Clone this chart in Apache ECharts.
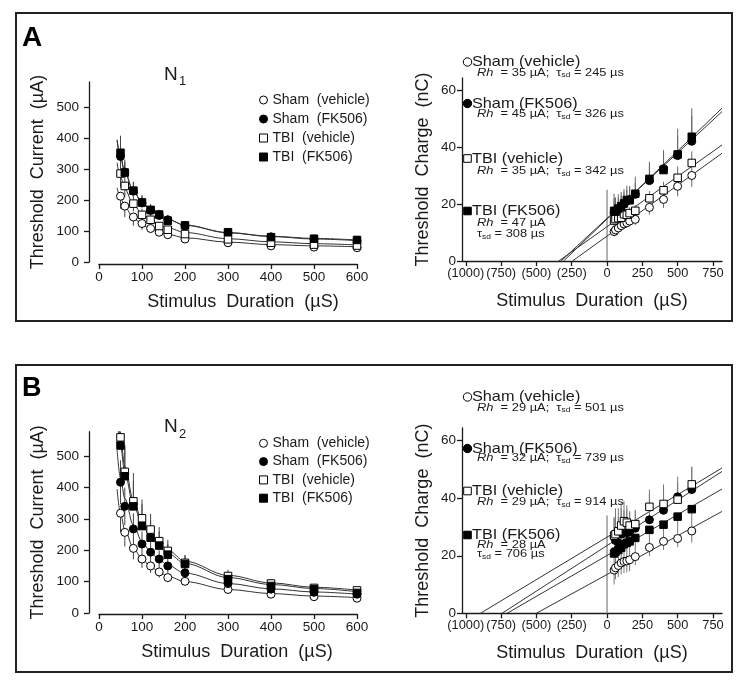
<!DOCTYPE html>
<html><head><meta charset="utf-8">
<script src="https://cdn.jsdelivr.net/npm/echarts@6/dist/echarts.min.js"></script>
<style>html,body{margin:0;padding:0;background:#fff}#c{width:750px;height:687px}</style>
</head><body><div id="c"></div>
<script>
// ---------- data ----------
const durations = [50, 60, 80, 100, 120, 140, 160, 200, 300, 400, 500, 600];
const fitDurations = [42, 50, 60, 80, 100, 120, 140, 160, 200, 300, 400, 500, 600];
const currentTicks = [0, 100, 200, 300, 400, 500];
const chargeTicks = [0, 20, 40, 60];
const durationTicks = [0, 100, 200, 300, 400, 500, 600];
const extDurationTicks = [-1000, -750, -500, -250, 0, 250, 500, 750];
const groupNames = ['Sham  (vehicle)', 'Sham  (FK506)', 'TBI  (vehicle)', 'TBI  (FK506)'];

// Panel A (N1) threshold current, µA
const aCurShamVeh = [212, 180, 145, 124, 108, 96, 88, 74, 62, 52, 48, 46];
const aCurShamFK  = [340, 290, 228, 190, 166, 150, 136, 117, 94, 81, 74, 69];
const aCurTbiVeh  = [285, 245, 188, 152, 136, 116, 104, 90, 73, 62, 56, 53];
const aCurTbiFK   = [352, 288, 230, 192, 168, 153, 133, 118, 96, 80, 75, 71];
const aCurShamVehErr = [40, 35, 28, 20, 15, 12, 10, 8, 6, 5, 5, 5];
const aCurShamFKErr  = [55, 40, 30, 25, 20, 18, 15, 12, 8, 6, 5, 5];
const aCurTbiVehErr  = [45, 35, 25, 20, 15, 12, 10, 8, 6, 5, 5, 4];
const aCurTbiFKErr   = [55, 35, 28, 22, 18, 15, 12, 10, 8, 6, 5, 5];
const aCurShamVehFit = [239, 207, 178, 142, 121, 106, 96, 89, 78, 64, 56, 52, 49];
const aCurShamFKFit  = [394, 338, 290, 228, 192, 167, 150, 137, 118, 94, 82, 74, 69];
const aCurTbiVehFit  = [320, 274, 235, 185, 155, 135, 120, 110, 95, 75, 65, 59, 55];
const aCurTbiFKFit   = [392, 337, 288, 228, 192, 168, 150, 137, 119, 95, 83, 76, 71];

// Panel A threshold charge, nC
const aChgShamVeh = [10.3, 10.9, 11.6, 12.4, 13.0, 13.4, 14.0, 14.6, 18.8, 21.6, 26.2, 30.0];
const aChgShamFK  = [17.0, 17.4, 18.2, 19.1, 20.0, 21.0, 21.6, 23.4, 28.2, 32.4, 37.0, 42.0];
const aChgTbiVeh  = [14.2, 14.7, 15.0, 15.2, 16.4, 16.2, 16.8, 17.6, 22.0, 24.8, 29.2, 34.4];
const aChgTbiFK   = [17.6, 17.3, 18.4, 19.2, 20.2, 21.4, 21.3, 23.6, 28.8, 31.9, 37.4, 43.6];
const aChgShamVehErr = [1.5, 1.5, 1.5, 1.5, 1.5, 1.5, 1.5, 2, 2.5, 3, 3.5, 4];
const aChgShamFKErr  = [5, 4, 4, 4, 4, 4, 4, 4, 5, 6, 7, 9];
const aChgTbiVehErr  = [2, 2, 2, 2, 2, 2, 2, 2, 2.5, 3, 4, 4];
const aChgTbiFKErr   = [6, 5, 5, 5, 5, 5, 5, 6, 6, 7, 9, 10];
const aChgShamVehFit = [[-245, 0], [814, 37.8]];
const aChgShamFKFit  = [[-326, 0], [814, 52.4]];
const aChgTbiVehFit  = [[-342, 0], [814, 40.7]];
const aChgTbiFKFit   = [[-308, 0], [814, 53.6]];
const aZeroBar = [[0, 0], [0, 25]];

// Panel B (N2) threshold current, µA
const bCurShamVeh = [318, 257, 206, 172, 150, 131, 113, 101, 75, 60, 52, 47];
const bCurShamFK  = [417, 340, 268, 220, 194, 172, 150, 128, 94, 76, 66, 60];
const bCurTbiVeh  = [560, 450, 356, 302, 266, 229, 198, 160, 118, 94, 80, 72];
const bCurTbiFK   = [534, 436, 340, 277, 240, 215, 186, 156, 108, 86, 76, 64];
const bCurShamVehErr = [60, 45, 35, 28, 22, 18, 15, 10, 8, 6, 5, 5];
const bCurShamFKErr  = [70, 60, 50, 40, 32, 28, 22, 18, 12, 10, 8, 7];
const bCurTbiVehErr  = [90, 80, 90, 60, 50, 45, 35, 25, 20, 12, 10, 8];
const bCurTbiFKErr   = [110, 100, 80, 70, 55, 45, 35, 28, 20, 15, 12, 10];
const bCurShamVehFit = [395, 318, 265, 207, 172, 148, 130, 117, 100, 75, 62, 54, 49];
const bCurShamFKFit  = [520, 430, 365, 280, 228, 194, 170, 152, 127, 94, 77, 67, 60];
const bCurTbiVehFit  = [660, 560, 468, 360, 296, 254, 224, 200, 165, 120, 96, 82, 73];
const bCurTbiFKFit   = [640, 534, 445, 345, 283, 242, 212, 190, 158, 113, 91, 78, 68];

// Panel B threshold charge, nC
const bChgShamVeh = [15.0, 15.8, 16.6, 17.5, 18.0, 18.2, 18.6, 19.7, 22.9, 25.0, 26.0, 28.6];
const bChgShamFK  = [26.5, 25.3, 24.5, 27.5, 27.8, 28.0, 28.2, 29.6, 32.5, 35.8, 40.5, 43.0];
const bChgTbiVeh  = [27.0, 27.5, 28.5, 30.5, 32.0, 31.5, 30.5, 31.0, 37.0, 38.0, 39.5, 44.8];
const bChgTbiFK   = [20.8, 21.4, 22.0, 22.8, 24.0, 24.5, 25.0, 26.2, 29.0, 30.8, 33.6, 36.2];
const bChgShamVehErr = [5, 4, 4, 4, 4, 4, 4, 3, 3, 3, 3, 4];
const bChgShamFKErr  = [7, 9, 9, 9, 8, 8, 7, 6, 9, 9, 7, 8];
const bChgTbiVehErr  = [6, 9, 8, 8, 7, 6, 5, 5, 6, 6, 6, 6];
const bChgTbiFKErr   = [6, 7, 7, 7, 7, 6, 6, 5, 8, 7, 6, 7];
const bChgShamVehFit = [[-501, 0], [814, 35.4]];
const bChgShamFKFit  = [[-744, 0], [814, 49.3]];
const bChgTbiVehFit  = [[-897, 0], [814, 50.5]];
const bChgTbiFKFit   = [[-708, 0], [814, 43.2]];
const bZeroBar = [[0, 0], [0, 34]];

// ---------- chart ----------
const FF = '"Liberation Sans", Arial, Helvetica, sans-serif';
const INK = '#1a1a1a';
const chart = echarts.init(document.getElementById('c'), null, {renderer: 'canvas'});

const styles = [
  {symbol: 'circle', filled: false},
  {symbol: 'circle', filled: true},
  {symbol: 'rect', filled: false},
  {symbol: 'rect', filled: true}
];

function markerSeries(idx, g, vals) {
  const s = styles[g];
  return {
    type: 'scatter', name: groupNames[g], xAxisIndex: idx, yAxisIndex: idx,
    data: durations.map((t, i) => [t, vals[i]]),
    symbol: s.symbol, symbolSize: s.symbol === 'circle' ? 8 : 7.5,
    itemStyle: {color: s.filled ? '#000' : '#fff', borderColor: '#000', borderWidth: 1, opacity: 1},
    z: 5, silent: true, animation: false
  };
}
function errSeries(idx, vals, errs, dir, cap, color) {
  return {
    type: 'custom', name: 'err', xAxisIndex: idx, yAxisIndex: idx, z: 3, silent: true, animation: false,
    data: durations.map((t, i) => [t,
      dir > 0 ? vals[i] : vals[i] - errs[i],
      dir < 0 ? vals[i] : Math.min(cap, vals[i] + errs[i])]),
    encode: {x: 0, y: [1, 2]},
    renderItem: function (params, api) {
      const p1 = api.coord([api.value(0), api.value(1)]);
      const p2 = api.coord([api.value(0), api.value(2)]);
      return {type: 'line', shape: {x1: p1[0], y1: p1[1], x2: p2[0], y2: p2[1]},
        style: {stroke: color, lineWidth: 1}};
    }
  };
}
function fitSeries(idx, data, smooth) {
  return {
    type: 'line', name: 'fit', xAxisIndex: idx, yAxisIndex: idx, data: data,
    smooth: smooth ? 0.35 : false, smoothMonotone: 'x', showSymbol: false, symbol: 'none',
    lineStyle: {color: '#333', width: 1}, z: 2, silent: true, animation: false, clip: true
  };
}
function zeroBar(idx, data) {
  return {type: 'line', name: 'zero', xAxisIndex: idx, yAxisIndex: idx, data: data, showSymbol: false,
    symbol: 'none', lineStyle: {color: '#999', width: 1.5}, z: 1, silent: true, animation: false};
}
const toPts = arr => fitDurations.map((t, i) => [t, arr[i]]);

const series = [];
// A left (0)
[[aCurShamVeh, aCurShamVehErr, -1, aCurShamVehFit], [aCurShamFK, aCurShamFKErr, 1, aCurShamFKFit],
 [aCurTbiVeh, aCurTbiVehErr, 0, aCurTbiVehFit], [aCurTbiFK, aCurTbiFKErr, 1, aCurTbiFKFit]]
  .forEach(d => { series.push(fitSeries(0, toPts(d[3]), true)); series.push(errSeries(0, d[0], d[1], d[2], 580, '#444')); });
// A right (1)
series.push(zeroBar(1, aZeroBar));
[[aChgShamVeh, aChgShamVehErr, -1, aChgShamVehFit], [aChgShamFK, aChgShamFKErr, 1, aChgShamFKFit],
 [aChgTbiVeh, aChgTbiVehErr, 0, aChgTbiVehFit], [aChgTbiFK, aChgTbiFKErr, 1, aChgTbiFKFit]]
  .forEach(d => { series.push(fitSeries(1, d[3], false)); series.push(errSeries(1, d[0], d[1], d[2], 64, '#666')); });
// B left (2)
[[bCurShamVeh, bCurShamVehErr, -1, bCurShamVehFit], [bCurShamFK, bCurShamFKErr, 0, bCurShamFKFit],
 [bCurTbiVeh, bCurTbiVehErr, 1, bCurTbiVehFit], [bCurTbiFK, bCurTbiFKErr, 1, bCurTbiFKFit]]
  .forEach(d => { series.push(fitSeries(2, toPts(d[3]), true)); series.push(errSeries(2, d[0], d[1], d[2], 578, '#444')); });
// B right (3)
series.push(zeroBar(3, bZeroBar));
[[bChgShamVeh, bChgShamVehErr, -1, bChgShamVehFit], [bChgShamFK, bChgShamFKErr, 1, bChgShamFKFit],
 [bChgTbiVeh, bChgTbiVehErr, 1, bChgTbiVehFit], [bChgTbiFK, bChgTbiFKErr, -1, bChgTbiFKFit]]
  .forEach(d => { series.push(fitSeries(3, d[3], false)); series.push(errSeries(3, d[0], d[1], d[2], 64, '#777')); });
// markers (drawn last)
[aCurShamVeh, aCurShamFK, aCurTbiVeh, aCurTbiFK].forEach((v, g) => series.push(markerSeries(0, g, v)));
[aChgShamVeh, aChgShamFK, aChgTbiVeh, aChgTbiFK].forEach((v, g) => series.push(markerSeries(1, g, v)));
[bCurShamVeh, bCurShamFK, bCurTbiVeh, bCurTbiFK].forEach((v, g) => series.push(markerSeries(2, g, v)));
[bChgShamVeh, bChgShamFK, bChgTbiVeh, bChgTbiFK].forEach((v, g) => series.push(markerSeries(3, g, v)));

const axisLine = {show: true, onZero: false, lineStyle: {color: INK, width: 1.3}};
const axisTick = (vals) => ({show: true, length: 5, customValues: vals, lineStyle: {color: INK, width: 1.3}});
const lab = (vals, fmt, size, margin) => ({show: true, customValues: vals, fontSize: size, fontFamily: FF, color: INK, margin: margin,
  formatter: fmt || (v => String(v))});
const nameStyle = (shift) => ({fontSize: 18, fontFamily: FF, color: INK, padding: [0, 0, 0, shift || 0]});
const negFmt = v => v < 0 ? '(' + (-v) + ')' : String(v);

function xAx(idx, min, max, ticks, fmt, size, gap, offset, shift) {
  return {type: 'value', gridIndex: idx, min: min, max: max, axisLine: axisLine, axisTick: axisTick(ticks),
    axisLabel: lab(ticks, fmt, size, 6), splitLine: {show: false}, offset: offset || 0,
    name: 'Stimulus  Duration  (\u00b5S)', nameLocation: 'middle', nameGap: gap, nameTextStyle: nameStyle(shift)};
}
function yAx(idx, max, ticks, name, gap, offset, margin) {
  return {type: 'value', gridIndex: idx, min: 0, max: max, axisLine: axisLine, axisTick: axisTick(ticks),
    axisLabel: lab(ticks, null, 13.5, margin), splitLine: {show: false}, offset: offset || 0,
    name: name, nameLocation: 'middle', nameGap: gap, nameTextStyle: nameStyle(0)};
}

function legendFor(top, gap) {
  return {
    orient: 'vertical', left: 259, top: top, padding: 0, itemWidth: 8, itemHeight: 8, itemGap: gap, selectedMode: false,
    textStyle: {fontSize: 14, fontFamily: FF, color: INK, lineHeight: 14},
    data: groupNames.map((n, g) => ({name: n, icon: styles[g].symbol,
      itemStyle: {color: styles[g].filled ? '#000' : '#fff', borderColor: '#000', borderWidth: 1}}))
  };
}

// ---------- graphic annotations ----------
const rich = {
  i: {fontStyle: 'italic', fontSize: 11.5, fontFamily: FF, fill: INK, lineHeight: 13},
  s: {fontSize: 7.5, fontFamily: FF, fill: INK, lineHeight: 8, verticalAlign: 'bottom'},
  n: {fontSize: 11.5, fontFamily: FF, fill: INK, lineHeight: 13}
};
const SX = 1.12;
function marker(x, y, g) {
  const s = styles[g];
  const st = {fill: s.filled ? '#000' : '#fff', stroke: '#000', lineWidth: 1};
  if (s.symbol === 'circle') return {type: 'circle', shape: {cx: x, cy: y, r: 4.2}, style: st, z: 10};
  return {type: 'rect', shape: {x: x - 3.8, y: y - 3.8, width: 7.6, height: 7.6}, style: st, z: 10};
}
function txt(x, y, text, size) {
  return {type: 'text', x: x, y: y, scaleX: SX, z: 10, style: {text: text, fontSize: size, fontFamily: FF, fill: INK, verticalAlign: 'middle', align: 'left'}};
}
function rtxt(x, y, text) {
  return {type: 'text', x: x, y: y, scaleX: SX, z: 10, style: {text: text, rich: rich, fontSize: 11.5, fontFamily: FF, fill: INK, verticalAlign: 'middle', align: 'left'}};
}
function annotations(pos, params) {
  const out = [];
  const titles = ['Sham (vehicle)', 'Sham (FK506)', 'TBI (vehicle)', 'TBI (FK506)'];
  params.forEach((p, g) => {
    const ty = pos[g][0];
    out.push(marker(467.5, ty, g));
    out.push(txt(472, ty, titles[g], 14.5));
    if (g < 3) {
      out.push(rtxt(477, pos[g][1], '{i|Rh}{n|  = ' + p[0] + ' \u00b5A;  \u03c4}{s|sd}{n| = ' + p[1] + ' \u00b5s}'));
    } else {
      out.push(rtxt(477, pos[g][1], '{i|Rh}{n|  = ' + p[0] + ' \u00b5A}'));
      out.push(rtxt(477, pos[g][2], '{n|\u03c4}{s|sd}{n| = ' + p[1] + ' \u00b5s}'));
    }
  });
  return out;
}
const aParams = [[35, 245], [45, 326], [35, 342], [47, 308]];
const bParams = [[29, 501], [32, 739], [29, 914], [28, 706]];

const graphic = [
  {type: 'rect', shape: {x: 16, y: 13, width: 716, height: 308}, style: {fill: 'none', stroke: '#222', lineWidth: 2}, z: 0},
  {type: 'rect', shape: {x: 16, y: 365, width: 716, height: 307}, style: {fill: 'none', stroke: '#222', lineWidth: 2}, z: 0},
  {type: 'text', x: 22, y: 38, style: {text: 'A', fontSize: 28, fontWeight: 'bold', fontFamily: FF, fill: '#000', verticalAlign: 'middle'}},
  {type: 'text', x: 22, y: 389, style: {text: 'B', fontSize: 27, fontWeight: 'bold', fontFamily: FF, fill: '#000', verticalAlign: 'middle'}},
  {type: 'text', x: 164, y: 75, style: {text: 'N', fontSize: 19, fontFamily: FF, fill: INK, verticalAlign: 'middle'}},
  {type: 'text', x: 179, y: 81, style: {text: '1', fontSize: 13, fontFamily: FF, fill: INK, verticalAlign: 'middle'}},
  {type: 'text', x: 164, y: 427, style: {text: 'N', fontSize: 19, fontFamily: FF, fill: INK, verticalAlign: 'middle'}},
  {type: 'text', x: 179, y: 434, style: {text: '2', fontSize: 13, fontFamily: FF, fill: INK, verticalAlign: 'middle'}}
].concat(
  annotations([[62, 72.5], [103.5, 114], [158.5, 171], [211, 222.5, 234]], aParams),
  annotations([[397, 407.5], [448.5, 458], [491, 502], [535, 545, 554]], bParams)
);

const option = {
  backgroundColor: '#fff',
  animation: false,
  grid: [
    {left: 99, top: 82, width: 258, height: 180},
    {left: 462, top: 78, width: 260, height: 183},
    {left: 99, top: 431.7, width: 258, height: 181.3},
    {left: 462, top: 428, width: 260, height: 185.3}
  ],
  xAxis: [
    xAx(0, 0, 600, durationTicks, null, 13.5, 29, 2, 30),
    xAx(1, -1027, 814, extDurationTicks, negFmt, 12.8, 31, 0, 0),
    xAx(2, 0, 600, durationTicks, null, 13.5, 29, 1, 18),
    xAx(3, -1027, 814, extDurationTicks, negFmt, 12.8, 31, 0, 0)
  ],
  yAxis: [
    yAx(0, 580, currentTicks, 'Threshold  Current  (\u00b5A)', 42, 10, 10),
    yAx(1, 64.2, chargeTicks, 'Threshold  Charge  (nC)', 30, 0, 6),
    yAx(2, 578, currentTicks, 'Threshold  Current  (\u00b5A)', 42, 10, 10),
    yAx(3, 64.4, chargeTicks, 'Threshold  Charge  (nC)', 30, 0, 6)
  ],
  legend: [legendFor(93, 5), legendFor(436.3, 4.3)],
  series: series,
  graphic: graphic
};
chart.setOption(option);
</script></body></html>
